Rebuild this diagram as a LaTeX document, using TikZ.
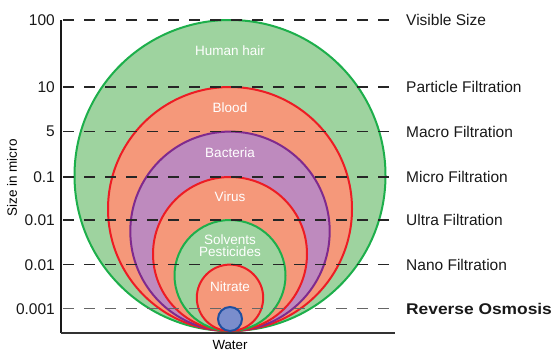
\documentclass[tikz,border=0pt]{standalone}
\usepackage{fontspec}
\setmainfont{Liberation Sans}
\usepackage{tikz}

\definecolor{hairfill}{HTML}{9ED39F}
\definecolor{hairline}{HTML}{1DAF4B}
\definecolor{bloodfill}{HTML}{F5987A}
\definecolor{bloodline}{HTML}{ED1C24}
\definecolor{bactfill}{HTML}{BE8ABE}
\definecolor{bactline}{HTML}{7F2A8E}
\definecolor{waterfill}{HTML}{7A8DCC}
\definecolor{waterline}{HTML}{1F4FA0}

\tikzset{
  ticklabel/.style={anchor=east, font=\fontsize{15.5}{18}\selectfont, text=black!90},
  sizelabel/.style={anchor=west, font=\fontsize{15.5}{18}\selectfont, text=black!90},
  inlabel/.style={font=\fontsize{13.5}{15}\selectfont, text=white},
  levelline/.style={line width=1.5pt, black!85, dash pattern=on 11pt off 10pt,
    shorten <=8pt, shorten >=13pt},
  greenring/.style={fill=hairfill, draw=hairline, line width=2pt},
  redring/.style={fill=bloodfill, draw=bloodline, line width=2pt},
  purplering/.style={fill=bactfill, draw=bactline, line width=2pt}
}

\begin{document}
\begin{tikzpicture}[x=1pt,y=-1pt]
  \tikzstyle{every node}+=[inner sep=0pt]
  \useasboundingbox (0,0) rectangle (554,351);

  % particles, all resting on the same point
  \draw [greenring] (230,175.5) circle (155.5);
  \draw [redring] (230,209) circle (122);
  \draw [purplering] (230,231.3) circle (99.7);
  \draw [redring] (230,254) circle (77);
  \draw [greenring] (230,275.5) circle (55.5);
  \draw [redring] (230,297.8) circle (33.2);

  % axis
  \coordinate (top) at (61,20);
  \coordinate (origin) at (61,333);
  \coordinate (xend) at (395,333);
  \draw [line width=2.8pt, black!90] (top) -- (origin);
  \draw [line width=2pt, black!80] (origin) -- (xend);

  % sizes and filters
  \node [ticklabel] (t100) at (55,20) {100};
  \node [ticklabel] (t10) at (55,87) {10};
  \node [ticklabel] (t5) at (55,131.7) {5};
  \node [ticklabel] (t01) at (55,177) {0.1};
  \node [ticklabel] (t001a) at (55,220) {0.01};
  \node [ticklabel] (t001b) at (55,264.7) {0.01};
  \node [ticklabel] (t0001) at (55,308.7) {0.001};

  \node [sizelabel] (visible) at (406,20) {Visible Size};
  \node [sizelabel] (particle) at (406,87) {Particle Filtration};
  \node [sizelabel] (macro) at (406,131.7) {Macro Filtration};
  \node [sizelabel] (micro) at (406,177) {Micro Filtration};
  \node [sizelabel] (ultra) at (406,220) {Ultra Filtration};
  \node [sizelabel] (nano) at (406,264.7) {Nano Filtration};
  \node [sizelabel] (ro) at (406,308.7) {\bfseries\scalebox{1.12}[1]{Reverse Osmosis}};

  \draw [levelline] (t100.east) -- (visible.west);
  \draw [levelline] (t10.east) -- (particle.west);
  \draw [levelline] (t5.east) -- (macro.west);
  \draw [levelline] (t01.east) -- (micro.west);
  \draw [levelline] (t001a.east) -- (ultra.west);
  \draw [levelline] (t001b.east) -- (nano.west);
  \draw [levelline, black!60] (t0001.east) -- (ro.west);

  % water molecule
  \draw [fill=waterfill, draw=waterline, line width=2pt] (230,319) circle (12);

  \node [inlabel] (hair) at (230,51) {Human hair};
  \node [inlabel] (blood) at (230,108) {Blood};
  \node [inlabel] (bact) at (230,153) {Bacteria};
  \node [inlabel] (virus) at (230,197) {Virus};
  \node [inlabel] (solv) at (230,240) {Solvents};
  \node [inlabel] (pest) at (230,252) {Pesticides};
  \node [inlabel] (nitrate) at (230,287) {Nitrate};

  \node [font=\fontsize{13.3}{15}\selectfont] (water) at (230,345) {Water};
  \node [font=\fontsize{13.5}{15}\selectfont, rotate=90] (axistitle) at (12,178) {Size in micro};
\end{tikzpicture}
\end{document}
